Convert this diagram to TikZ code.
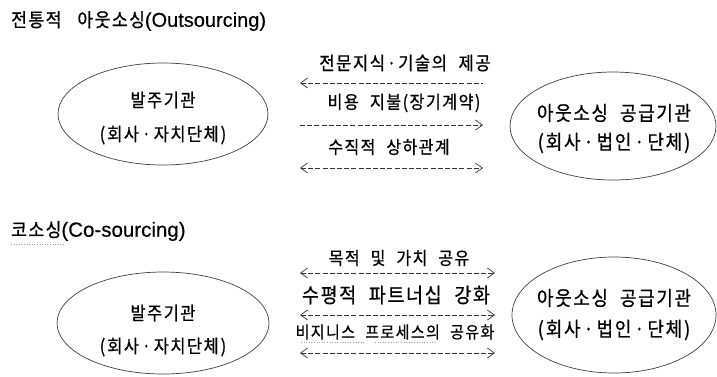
\documentclass[tikz,border=0pt]{standalone}
\usepackage{fontspec}
\setmainfont{Noto Sans CJK KR}[FakeBold=0.7]
\newfontfamily\kr{Noto Sans CJK KR}[FakeStretch=0.9,LetterSpace=8,FakeBold=0.7,WordSpace=2.2]
\newfontfamily\lat{Liberation Sans}[FakeBold=0.3]
\newcommand\kdot[1]{\hspace{#1}·\hspace{#1}}
\newcommand\fs[1]{\fontsize{#1}{#1}\selectfont}
\usetikzlibrary{arrows.meta,shapes.geometric}
\tikzset{
  lbl/.style={font=\kr\fs{18},inner sep=0pt},
  etxtL/.style={font=\kr\fs{18.3},inner sep=0pt},
  etxtR/.style={font=\kr\fs{20},inner sep=0pt},
  ttl/.style={inner sep=0pt,anchor=west},
  orgline/.style={draw=black!75,line width=0.7pt},
  darr/.style={draw=black!80,line width=0.7pt,dash pattern=on 5pt off 2.2pt},
  tipL/.style={{Straight Barb[length=7pt,width=10pt,line width=0.7pt]}-},
  tipR/.style={-{Straight Barb[length=7pt,width=10pt,line width=0.7pt]}},
  tipB/.style={{Straight Barb[length=7pt,width=10pt,line width=0.7pt]}-{Straight Barb[length=7pt,width=10pt,line width=0.7pt]}},
  spell/.style={draw=black!40,line width=0.6pt,dotted},
}
\begin{document}
\begin{tikzpicture}[x=1pt,y=-1pt]
\useasboundingbox (0,0) rectangle (717,376);
% titles
\node[ttl] (t1) at (11,21) {{\kr\fs{19}전통적}\hspace{16pt}{\kr\fs{19}아웃소싱}{\lat\fs{20}(Outsourcing)}};
\node[ttl] (t2) at (11,231) {{\kr\fs{19}코소싱}{\lat\fs{20.5}(Co-sourcing)}};
\coordinate (u1a) at (11,244);
\coordinate (u1b) at (64,244);
\draw[spell] (u1a) -- (u1b);
% upper ellipses
\draw[orgline] (163,114) ellipse [x radius=105, y radius=51];
\node[etxtL] (a1) at (163,100) {발주기관};
\node[etxtL] (a2) at (163,135) {(\hspace{2pt}회사\kdot{0.15em}자치단체\hspace{2pt})};
\draw[orgline] (613,126) ellipse [x radius=103, y radius=54];
\node[etxtR] (b1) at (614,113) {아웃소싱\hspace{12pt}공급기관};
\node[etxtR] (b2) at (614,143) {(\hspace{2pt}회사\kdot{0.15em}법인\kdot{0.15em}단체\hspace{2pt})};
% upper labels and arrows
\node[lbl,font=\kr\fs{18.5}] (l1) at (405,63) {전문지식\kdot{0.1em}기술의 제공};
\node[lbl] (l2) at (404,103) {비용 지불(장기계약)};
\node[lbl,font=\kr\fs{17.8}] (l3) at (389,147) {수직적 상하관계};
\coordinate (p1a) at (300,83); \coordinate (p1b) at (483,83);
\coordinate (p2a) at (300,125); \coordinate (p2b) at (483,125);
\coordinate (p3a) at (300,168); \coordinate (p3b) at (483,168);
\draw[darr,tipL] (p1a) -- (p1b);
\draw[darr,tipR] (p2a) -- (p2b);
\draw[darr,tipB] (p3a) -- (p3b);
% lower ellipses
\draw[orgline] (163,323) ellipse [x radius=106, y radius=51];
\node[etxtL] (c1) at (163,313) {발주기관};
\node[etxtL] (c2) at (163,347) {(\hspace{2pt}회사\kdot{0.15em}자치단체\hspace{2pt})};
\draw[orgline] (614,315) ellipse [x radius=102, y radius=58];
\node[etxtR] (d1) at (614,298) {아웃소싱\hspace{12pt}공급기관};
\node[etxtR] (d2) at (614,330) {(\hspace{2pt}회사\kdot{0.15em}법인\kdot{0.15em}단체\hspace{2pt})};
% lower labels and arrows
\node[lbl,font=\kr\fs{17.8}] (m1) at (399,258) {목적 및 가치 공유};
\node[lbl,font=\kr\fs{20.5}] (m2) at (396,295) {수평적 파트너십 강화};
\node[lbl,font=\kr\fs{16.7}] (m3) at (395,332) {비지니스 프로세스의 공유화};
\coordinate (s1a) at (301,342); \coordinate (s1b) at (364,342);
\coordinate (s2a) at (375,342); \coordinate (s2b) at (436,342);
\draw[spell] (s1a) -- (s1b);
\draw[spell] (s2a) -- (s2b);
\coordinate (q1a) at (300,273); \coordinate (q1b) at (495,273);
\coordinate (q2a) at (300,315); \coordinate (q2b) at (495,315);
\coordinate (q3a) at (300,353); \coordinate (q3b) at (495,353);
\draw[darr,tipB] (q1a) -- (q1b);
\draw[darr,tipB] (q2a) -- (q2b);
\draw[darr,tipB] (q3a) -- (q3b);
\end{tikzpicture}
\end{document}
